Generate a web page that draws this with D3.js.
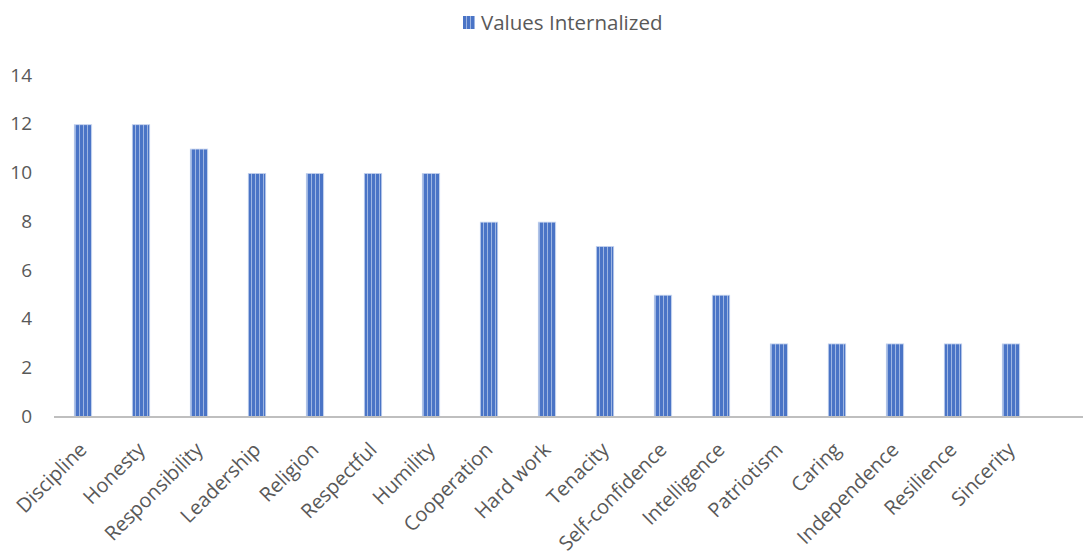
<!DOCTYPE html>
<html>
<head>
<meta charset="utf-8">
<script src="https://cdn.jsdelivr.net/npm/d3@7"></script>
<style>
  body { margin: 0; background: #fff; }
  text { font-family: "Open Sans", "Liberation Sans", sans-serif; fill: #595959; }
</style>
</head>
<body>
<div id="chart"></div>
<script>
const width = 1083;
const height = 555;
const margin = { top: 76, bottom: 138, left: 54, right: 43 };

const categories = ["Discipline", "Honesty", "Responsibility", "Leadership", "Religion",
  "Respectful", "Humility", "Cooperation", "Hard work", "Tenacity", "Self-confidence",
  "Intelligence", "Patriotism", "Caring", "Independence", "Resilience", "Sincerity"];
const values = [12, 12, 11, 10, 10, 10, 10, 8, 8, 7, 5, 5, 3, 3, 3, 3, 3];
const yTicks = [0, 2, 4, 6, 8, 10, 12, 14];
const seriesName = "Values Internalized";

const svg = d3.select("#chart").append("svg")
  .attr("width", width)
  .attr("height", height);

// striped fill like the original
const defs = svg.append("defs");
const pat = defs.append("pattern")
  .attr("id", "stripes")
  .attr("patternUnits", "userSpaceOnUse")
  .attr("width", 4)
  .attr("height", 4);
pat.append("rect").attr("width", 4).attr("height", 4).attr("fill", "#4a74c6");
pat.append("rect").attr("x", 3).attr("width", 1).attr("height", 4).attr("fill", "#9db5e2");

const x = d3.scaleBand()
  .domain(categories)
  .range([margin.left, width - margin.right])
  .paddingInner(0.7)
  .paddingOuter(0.35);

const y = d3.scaleLinear()
  .domain([0, 14])
  .range([height - margin.bottom, margin.top]);

// y tick labels
svg.append("g")
  .selectAll("text")
  .data(yTicks)
  .join("text")
  .attr("x", 32)
  .attr("y", (d) => y(d) - 1)
  .attr("dy", "0.35em")
  .attr("text-anchor", "end")
  .style("font-size", "19px")
  .text((d) => d);

// bars
svg.append("g")
  .selectAll("rect")
  .data(values)
  .join("rect")
  .attr("x", (d, i) => x(categories[i]))
  .attr("y", (d) => y(d))
  .attr("width", x.bandwidth())
  .attr("height", (d) => y(0) - y(d))
  .attr("fill", "url(#stripes)")
  .attr("stroke", "#c5d3ee")
  .attr("stroke-width", 0.8);

// baseline
svg.append("line")
  .attr("x1", margin.left)
  .attr("x2", width)
  .attr("y1", y(0))
  .attr("y2", y(0))
  .attr("stroke", "#bfbfbf")
  .attr("stroke-width", 2);

// category labels, rotated
svg.append("g")
  .selectAll("text")
  .data(categories)
  .join("text")
  .attr("transform", (d) =>
    `translate(${x(d) + x.bandwidth() / 2 + 5}, ${y(0) + 34}) rotate(-45)`)
  .attr("text-anchor", "end")
  .style("font-size", "20px")
  .text((d) => d);

// legend
const legend = svg.append("g").attr("transform", "translate(463, 16)");
legend.append("rect")
  .attr("width", 12)
  .attr("height", 13)
  .attr("fill", "url(#stripes)");
legend.append("text")
  .attr("x", 18)
  .attr("y", 14)
  .style("font-size", "20.5px")
  .text(seriesName);
</script>
</body>
</html>
